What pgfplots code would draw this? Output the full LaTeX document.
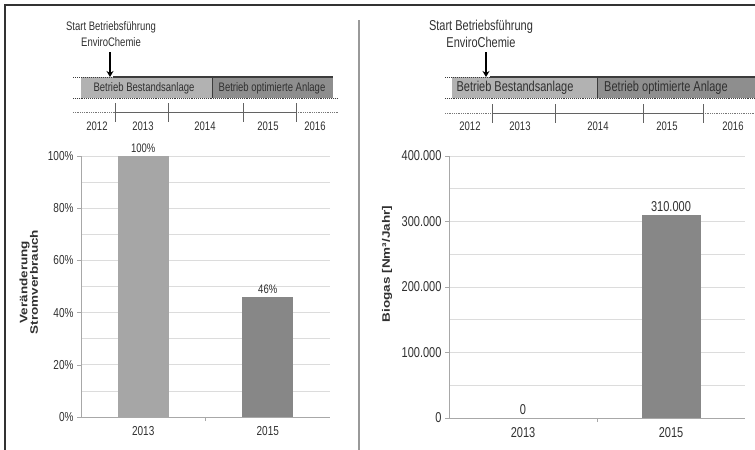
\documentclass[border=0pt]{standalone}
\usepackage{fontspec}
\setmainfont{Liberation Sans}
\usepackage{graphicx}
\usepackage{pgfplots}
\pgfplotsset{compat=1.18}
\usetikzlibrary{arrows.meta}

\definecolor{txt}{HTML}{303030}
\definecolor{barA}{HTML}{A6A6A6}
\definecolor{barB}{HTML}{878787}
\definecolor{tlA}{HTML}{B2B2B2}
\definecolor{tlB}{HTML}{8E8E8E}
\definecolor{tldark}{HTML}{3C3C3C}
\definecolor{gridgray}{HTML}{DCDCDC}
\definecolor{axisgray}{HTML}{A8A8A8}

\newcommand\fs[1]{\fontsize{#1bp}{#1bp}\selectfont}
\newcommand\vs[1]{\scalebox{1}[1.3]{#1}}

\pgfplotsset{
  /pgf/number format/assume math mode=true,
  /pgf/number format/fixed,
  /pgf/number format/precision=0,
  /pgf/number format/1000 sep={.},
  mybase/.style={
    scale only axis, clip=false,
    xmin=-0.5, xmax=1.5, ymin=0,
    axis x line*=bottom, axis y line*=left,
    axis line style={axisgray, line width=0.8bp},
    xtick={0.5}, xticklabels={},
    x tick style={axisgray, line width=0.6bp},
    extra x ticks={0,1},
    extra x tick style={major tick length=0pt, xticklabel style={yshift=-6bp}},
    ymajorgrids, yminorgrids,
    major grid style={gridgray, line width=0.7bp},
    minor grid style={gridgray, line width=0.7bp},
    y tick style={axisgray, line width=0.6bp},
    tick align=outside, major tick length=4bp, minor tick length=0pt,
    tick label style={text=txt},
    ybar,
    every node near coord/.append style={text=txt},
    ylabel style={text=txt},
  },
}

\begin{document}
\begin{tikzpicture}
\useasboundingbox (0,0) rectangle (755bp,-450bp);
\begin{scope}[x=1bp,y=-1bp]
  % frame
  \draw[black!80, line width=1.6bp] (5,450) -- (5,5) -- (755,5);
  \draw[black!40, line width=2bp] (359,20) -- (359,450);

  % ---------- left timeline ----------
  \node[font=\fs{9.5}, text=txt] at (111,27) {\vs{Start Betriebsführung}};
  \node[font=\fs{9.5}, text=txt] at (111,42) {\vs{EnviroChemie}};
  \draw[black, line width=2.2bp, -{Stealth[length=6bp,width=7bp]}] (110,52) -- (110,77);
  \fill[tlA] (81,77) rectangle (212,98);
  \fill[tlB] (212,77) rectangle (333,98);
  \draw[tldark, line width=1bp] (212,77) -- (212,98);
  \draw[tldark, line width=1bp, densely dotted] (73,77) -- (113,77);
  \draw[tldark, line width=1.2bp] (113,77) -- (333,77);
  \draw[tldark, line width=0.9bp, densely dotted] (73,98) -- (338,98);
  \node[font=\fs{9.5}, text=txt] at (144,88) {\vs{Betrieb Bestandsanlage}};
  \node[font=\fs{9.5}, text=txt] at (272,88) {\vs{Betrieb optimierte Anlage}};
  \draw[tldark!70, line width=0.8bp, densely dotted] (73,112) -- (115,112);
  \draw[tldark!80, line width=0.9bp] (115,112) -- (296,112);
  \draw[tldark!70, line width=0.8bp, densely dotted] (296,112) -- (338,112);
  \foreach \x in {115,168,243,296} \draw[tldark!80, line width=0.9bp] (\x,103) -- (\x,122);
  \foreach \x/\y in {97/2012,143/2013,205/2014,268/2015,315/2016}
    \node[font=\fs{9.5}, text=txt] at (\x,126) {\vs{\y}};

  % ---------- right timeline ----------
  \node[font=\fs{11}, text=txt] at (481,27) {\vs{Start Betriebsführung}};
  \node[font=\fs{11}, text=txt] at (481,42) {\vs{EnviroChemie}};
  \draw[black, line width=2.2bp, -{Stealth[length=6bp,width=7bp]}] (486,52) -- (486,77);
  \fill[tlA] (452,77) rectangle (597,98);
  \fill[tlB] (597,77) rectangle (755,98);
  \draw[tldark, line width=1bp] (597,77) -- (597,98);
  \draw[tldark, line width=1bp, densely dotted] (445,77) -- (490,77);
  \draw[tldark, line width=1.2bp] (490,77) -- (755,77);
  \draw[tldark, line width=0.9bp, densely dotted] (445,98) -- (755,98);
  \node[font=\fs{11}, text=txt] at (515,88) {\vs{Betrieb Bestandsanlage}};
  \node[font=\fs{11}, text=txt] at (666,88) {\vs{Betrieb optimierte Anlage}};
  \draw[tldark!70, line width=0.8bp, densely dotted] (445,113) -- (492,113);
  \draw[tldark!80, line width=0.9bp] (492,113) -- (703,113);
  \draw[tldark!70, line width=0.8bp, densely dotted] (703,113) -- (755,113);
  \foreach \x in {492,555,643,703} \draw[tldark!80, line width=0.9bp] (\x,104) -- (\x,123);
  \foreach \x/\y in {470/2012,520/2013,598/2014,667/2015,733/2016}
    \node[font=\fs{9.5}, text=txt] at (\x,126) {\vs{\y}};
\end{scope}

% ---------- left chart ----------
\begin{axis}[mybase,
  at={(81bp,-417bp)}, anchor=south west,
  width=249bp, height=261bp,
  ymax=100,
  extra x tick labels={\vs{2013},\vs{2015}},
  ytick={0,20,40,60,80,100}, minor ytick={10,30,50,70,90},
  yticklabel={\vs{\pgfmathprintnumber{\tick}\%}},
  tick label style={font=\fs{10}},
  bar width=51bp,
  nodes near coords={\vs{\pgfmathprintnumber{\pgfplotspointmeta}\%}},
  every node near coord/.append style={font=\fs{9.5}},
  ylabel={\scalebox{1}[0.8]{\begin{tabular}{@{}c@{}}Veränderung\\Stromverbrauch\end{tabular}}},
  ylabel style={at={(axis description cs:-0.205,0.517)}, anchor=center, font=\fontsize{13.5bp}{10.5bp}\selectfont\bfseries},
]
\addplot[fill=barA, draw=none, bar shift=0pt] coordinates {(0,100)};
\addplot[fill=barB, draw=none, bar shift=0pt] coordinates {(1,46)};
\end{axis}

% ---------- right chart ----------
\begin{axis}[mybase,
  at={(449bp,-418bp)}, anchor=south west,
  width=296bp, height=262bp,
  ymax=400000, scaled y ticks=false,
  extra x tick labels={\vs{2013},\vs{2015}},
  ytick={0,100000,200000,300000,400000}, minor ytick={50000,150000,250000,350000},
  yticklabel={\vs{\pgfmathprintnumber{\tick}}},
  tick label style={font=\fs{11}},
  bar width=59bp,
  nodes near coords={\vs{\pgfmathprintnumber{\pgfplotspointmeta}}},
  every node near coord/.append style={font=\fs{11}},
  ylabel={\scalebox{1}[0.8]{Biogas [Nm³/Jahr]}},
  ylabel style={at={(axis description cs:-0.209,0.588)}, anchor=center, font=\fs{13.5}\bfseries},
]
\addplot[fill=barA, draw=none, bar shift=0pt] coordinates {(0,0)};
\addplot[fill=barB, draw=none, bar shift=0pt] coordinates {(1,310000)};
\end{axis}
\end{tikzpicture}
\end{document}
